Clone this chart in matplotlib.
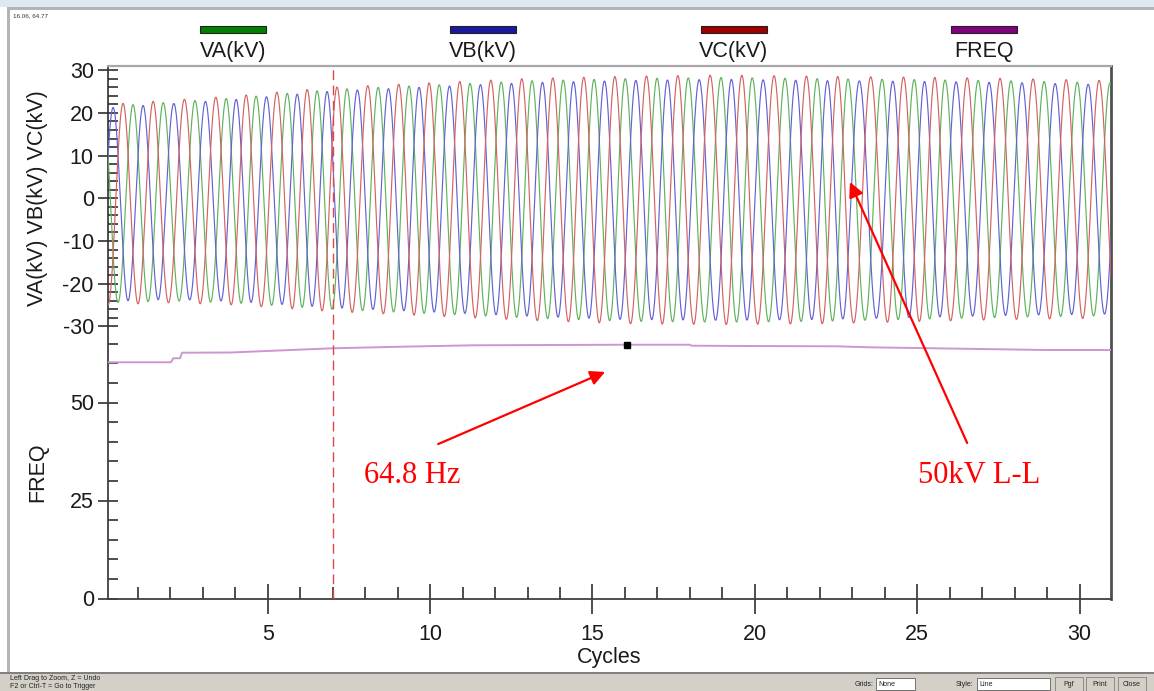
import numpy as np
import matplotlib
matplotlib.use("Agg")
import matplotlib.pyplot as plt
from matplotlib.patches import Rectangle
from matplotlib.ticker import FixedLocator

plt.rcParams['font.family'] = ['Liberation Sans', 'DejaVu Sans']
plt.rcParams['axes.unicode_minus'] = False

W, H = 1154, 691

# ---------------- data ----------------
series_names = ["VA(kV)", "VB(kV)", "VC(kV)", "FREQ"]
legend_colors = ["#008000", "#1a1aa0", "#a00000", "#800080"]
wave_colors = ["#5cb45c", "#6262d4", "#d46262"]

# cycle positions of the VA (green) positive peaks
va_peak_cycles = [-0.07, 0.85, 1.78, 2.76, 3.72, 4.64, 5.60, 6.52, 7.44, 8.40,
                  9.35, 10.28, 11.23, 12.19, 13.14, 14.10, 15.05, 16.01, 16.99,
                  17.95, 18.96, 19.92, 20.93, 21.92, 22.87, 23.92, 24.91, 25.86,
                  26.88, 27.89, 28.91, 29.93, 30.94, 31.94]

# envelope of the waveforms (kV)
env_cycles = [0, 2, 4, 7, 10, 13, 16, 19, 22, 25, 28, 31]
env_max = [21.5, 22.5, 23.5, 25.5, 26.5, 27.5, 28.0, 28.3, 28.0, 27.8, 27.5, 27.0]
env_min = [-24.5, -24.0, -24.5, -26.0, -27.0, -28.0, -28.8, -29.0, -28.8, -28.3, -27.8, -27.5]
phase_gain = [1.0, 0.985, 1.02]

# frequency trace (Hz)
freq_cycles = [0.08, 2.02, 2.09, 2.30, 2.36, 3.84, 7.0, 9.1, 11.3, 15.9, 18.0,
               18.05, 20.1, 22.5, 23.55, 25.5, 27.55, 29.0, 30.97]
freq_hz = [60.26, 60.26, 61.28, 61.28, 62.70, 62.75, 63.83, 64.23, 64.59, 64.74,
           64.74, 64.49, 64.40, 64.34, 64.08, 63.83, 63.57, 63.39, 63.39]

cursor_cycle, cursor_hz = 16.06, 64.77
trigger_cycle = 7.0

xlim = (0.08, 30.97)
volt_major = [-30, -20, -10, 0, 10, 20, 30]
volt_minor = [v for v in range(-30, 31, 2) if v % 10]
freq_major = [0, 25, 50]
freq_minor = [5, 10, 15, 20, 30, 35, 40, 45, 55, 60, 65]
x_major = [5, 10, 15, 20, 25, 30]
x_minor = [c for c in range(1, 31) if c % 5]

# ---------------- figure ----------------
fig = plt.figure(figsize=(W / 100, H / 100), dpi=100)
fig.patch.set_facecolor("white")

def fx(x):
    return x / W

def fy(y):
    return 1 - y / H

left_px, right_px, top_px, bot_px = 108, 1111, 65.7, 598.5
rect = [fx(left_px), fy(bot_px), fx(right_px) - fx(left_px), fy(top_px) - fy(bot_px)]

ax_f = fig.add_axes(rect)
ax_v = fig.add_axes(rect, sharex=ax_f)
ax_v.patch.set_alpha(0)

# pixel scale: freq 3.92 px/Hz, voltage 4.27 px/kV with 0 at y=198.3
ax_f.set_ylim(0, (bot_px - top_px) / 3.92)
v0 = 198.3
ax_v.set_ylim(-(bot_px - v0) / 4.27, (v0 - top_px) / 4.27)
ax_f.set_xlim(*xlim)

# waveforms
c = np.linspace(xlim[0], xlim[1], 8000)
theta = np.interp(c, va_peak_cycles, 2 * np.pi * np.arange(len(va_peak_cycles)))
vmax = np.interp(c, env_cycles, env_max)
vmin = np.interp(c, env_cycles, env_min)
amp = (vmax - vmin) / 2
mid = (vmax + vmin) / 2
for k in range(3):
    v = mid + phase_gain[k] * amp * np.cos(theta - 2 * np.pi * k / 3)
    ax_v.plot(c, v, color=wave_colors[k], lw=0.85, zorder=3)

# frequency
ax_f.plot(freq_cycles, freq_hz, color="#cc96d0", lw=1.4, zorder=3)
ax_v.plot([cursor_cycle], [(cursor_hz * 3.92 - (bot_px - v0)) / 4.27], marker="s",
          ms=5, color="black", zorder=6)

# trigger line
ax_v.axvline(trigger_cycle, color="#e04848", lw=1.0, ls=(0, (7, 4)), zorder=4)

# spines
for ax in (ax_f, ax_v):
    ax.tick_params(which="both", color="#303030", width=1.2, labelsize=15.5,
                   labelcolor="#1a1a1a")
for s in ax_v.spines.values():
    s.set_visible(False)
ax_f.spines["left"].set_color("#404040")
ax_f.spines["left"].set_linewidth(1.3)
ax_f.spines["bottom"].set_color("#404040")
ax_f.spines["bottom"].set_linewidth(1.3)
ax_f.spines["right"].set_color("#505050")
ax_f.spines["right"].set_linewidth(2.0)
ax_f.spines["top"].set_color("#a8a8a8")
ax_f.spines["top"].set_linewidth(1.6)

# y ticks
ax_v.yaxis.set_major_locator(FixedLocator(volt_major))
ax_v.yaxis.set_minor_locator(FixedLocator(volt_minor))
ax_f.yaxis.set_major_locator(FixedLocator(freq_major))
ax_f.yaxis.set_minor_locator(FixedLocator(freq_minor))
for ax in (ax_f, ax_v):
    ax.tick_params(axis="y", which="major", direction="inout", length=14.4, pad=3)
    ax.tick_params(axis="y", which="minor", direction="in", length=7.2)

# x ticks
ax_f.xaxis.set_major_locator(FixedLocator(x_major))
ax_f.xaxis.set_minor_locator(FixedLocator(x_minor))
ax_f.tick_params(axis="x", which="major", direction="inout", length=21, pad=8)
ax_f.tick_params(axis="x", which="minor", direction="in", length=8.6)
ax_v.tick_params(axis="x", which="both", bottom=False, labelbottom=False)
ax_f.set_xlabel("Cycles", fontsize=15.5, color="#1a1a1a", labelpad=1)

# axis titles
fig.text(fx(38), fy(198), "VA(kV) VB(kV) VC(kV)", rotation=90, ha="center",
         va="center", fontsize=15.5, color="#1a1a1a")
fig.text(fx(38), fy(472), "FREQ", rotation=90, ha="center", va="center",
         fontsize=15.5, color="#1a1a1a")

# legend strip
leg_x = [233, 483, 734, 984]
for name, col, xc in zip(series_names, legend_colors, leg_x):
    fig.patches.append(Rectangle((fx(xc - 33), fy(33)), 66 / W, 7 / H,
                                 transform=fig.transFigure, facecolor=col,
                                 edgecolor="#202020", lw=0.8))
    fig.text(fx(xc), fy(52), name, ha="center", va="center", fontsize=15.5,
             color="#1a1a1a")

# annotations
ax_f.annotate("", xy=(15.39, 57.8), xytext=(10.25, 39.4),
              arrowprops=dict(arrowstyle="-|>", color="red", lw=1.6,
                              mutation_scale=22, shrinkA=0, shrinkB=0),
              annotation_clip=False, zorder=7)
ax_f.text(9.44, 31.3, "64.8 Hz", color="red", fontsize=22, ha="center", va="center",
          family=["Liberation Serif", "DejaVu Serif"], zorder=7)
ax_v.annotate("", xy=(22.93, 3.8), xytext=(26.54, -57.3),
              arrowprops=dict(arrowstyle="-|>", color="red", lw=1.6,
                              mutation_scale=22, shrinkA=0, shrinkB=0),
              annotation_clip=False, zorder=7)
ax_v.text(26.9, -65.0, "50kV L-L", color="red", fontsize=22, ha="center", va="center",
          family=["Liberation Serif", "DejaVu Serif"], zorder=7)

# ---------------- window chrome ----------------
def frect(x0, y0, x1, y1, **kw):
    fig.patches.append(Rectangle((fx(x0), fy(y1)), (x1 - x0) / W, (y1 - y0) / H,
                                 transform=fig.transFigure, **kw))

frect(0, 0, W, 7, facecolor="#dfe7f3", edgecolor="none")
frect(8, 7, W, 10, facecolor="#b4b4b4", edgecolor="none")
frect(7, 7, 10, 673, facecolor="#b4b4b4", edgecolor="none")
frect(0, 673, W, H, facecolor="#d4d0c8", edgecolor="none")
frect(0, 672, W, 674, facecolor="#808080", edgecolor="none")
fig.text(fx(13), fy(16), "16.06, 64.77", fontsize=4.5, color="#333333", va="center")
fig.text(fx(10), fy(679), "Left Drag to Zoom, Z = Undo", fontsize=5, color="#222222", va="center")
fig.text(fx(10), fy(687), "F2 or Ctrl-T = Go to Trigger", fontsize=5, color="#222222", va="center")
fig.text(fx(855), fy(684), "Grids:", fontsize=5, color="#222222", va="center")
frect(876, 678, 915, 690, facecolor="white", edgecolor="#606060", lw=0.6)
fig.text(fx(878), fy(684), "None", fontsize=5, color="#222222", va="center")
fig.text(fx(956), fy(684), "Style:", fontsize=5, color="#222222", va="center")
frect(977, 678, 1050, 690, facecolor="white", edgecolor="#606060", lw=0.6)
fig.text(fx(979), fy(684), "Line", fontsize=5, color="#222222", va="center")
for bx, lbl in [(1055, "Pgf"), (1086, "Print"), (1118, "Close")]:
    frect(bx, 677, bx + 28, 691, facecolor="#d4d0c8", edgecolor="#808080", lw=0.6)
    fig.text(fx(bx + 14), fy(684), lbl, fontsize=5, color="#222222", va="center", ha="center")

fig.savefig("out.png", dpi=100, facecolor="white")
